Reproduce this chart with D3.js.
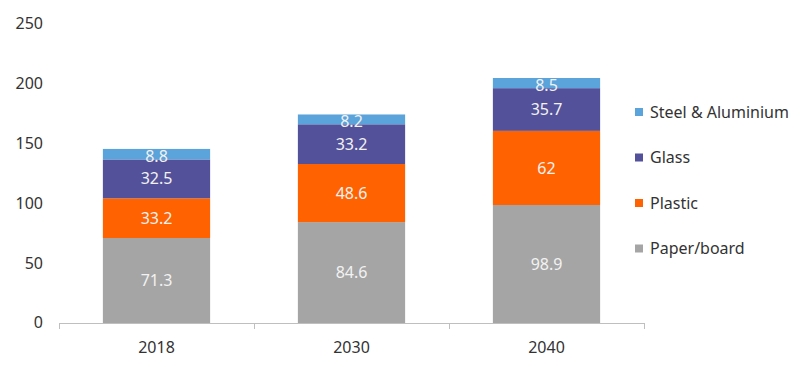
<!DOCTYPE html>
<html><head><meta charset="utf-8">
<script src="https://cdn.jsdelivr.net/npm/d3@7"></script>
<style>body{margin:0;background:#fff;} svg{display:block;font-family:"Noto Sans",sans-serif;}</style>
</head><body><svg id="c" width="800" height="367"></svg>
<script>
const categories = ["2018","2030","2040"];
const paper = [71.3, 84.6, 98.9];
const plastic = [33.2, 48.6, 62];
const glass = [32.5, 33.2, 35.7];
const steel = [8.8, 8.2, 8.5];
const seriesNames = ["Paper/board","Plastic","Glass","Steel & Aluminium"];
const seriesColors = ["#a5a5a5","#ff6200","#525199","#5ba3db"];
const yTicks = [0,50,100,150,200,250];

const svg = d3.select("#c");
const x = d3.scaleBand().domain(categories).range([59,644]).paddingInner(0.45).paddingOuter(0.225);
const y = d3.scaleLinear().domain([0,250]).range([323.3,24.3]);

const rows = categories.map((c,i)=>({cat:c, "Paper/board":paper[i], "Plastic":plastic[i], "Glass":glass[i], "Steel & Aluminium":steel[i]}));
const stacked = d3.stack().keys(seriesNames)(rows);

// y axis labels
svg.append("g").selectAll("text").data(yTicks).join("text")
  .attr("x",43).attr("y",d=>y(d)-0.5).attr("dy","0.35em").attr("text-anchor","end")
  .attr("font-size",16).attr("fill","#333").text(d=>d);

// bars
stacked.forEach((s,si)=>{
  const g = svg.append("g");
  g.selectAll("rect").data(s).join("rect")
    .attr("x",d=>x(d.data.cat)).attr("width",x.bandwidth())
    .attr("y",d=>y(d[1])).attr("height",d=>y(d[0])-y(d[1]))
    .attr("fill",seriesColors[si]);
});
stacked.forEach((s,si)=>{
  svg.append("g").selectAll("text").data(s).join("text")
    .attr("x",d=>x(d.data.cat)+x.bandwidth()/2)
    .attr("y",d=>(y(d[0])+y(d[1]))/2 + (si===3?2:0)).attr("dy","0.35em")
    .attr("text-anchor","middle").attr("font-size",16).attr("fill","#f2f2f2")
    .text(d=>d.data[s.key]);
});

// x axis
const ax = svg.append("g");
ax.append("line").attr("x1",59).attr("x2",644).attr("y1",323.5).attr("y2",323.5).attr("stroke","#bfbfbf");
const bounds = [59, ...categories.map(c=>x(c)+x.bandwidth()+x.step()*x.paddingInner()/2).slice(0,-1), 644];
ax.selectAll("line.t").data(bounds).join("line").attr("class","t")
  .attr("x1",d=>Math.round(d)+0.5).attr("x2",d=>Math.round(d)+0.5).attr("y1",323).attr("y2",329).attr("stroke","#bfbfbf");
ax.selectAll("text").data(categories).join("text")
  .attr("x",d=>x(d)+x.bandwidth()/2).attr("y",347).attr("dy","0.35em")
  .attr("text-anchor","middle").attr("font-size",16).attr("fill","#333").text(d=>d);

// legend
const legOrder = [3,2,1,0];
const lg = svg.append("g");
legOrder.forEach((si,k)=>{
  const yy = 112 + k*45.5;
  lg.append("rect").attr("x",635).attr("y",yy-4).attr("width",8).attr("height",8).attr("fill",seriesColors[si]);
  lg.append("text").attr("x",650).attr("y",yy).attr("dy","0.35em").attr("font-size",16).attr("fill","#333").text(seriesNames[si]);
});
</script></body></html>
